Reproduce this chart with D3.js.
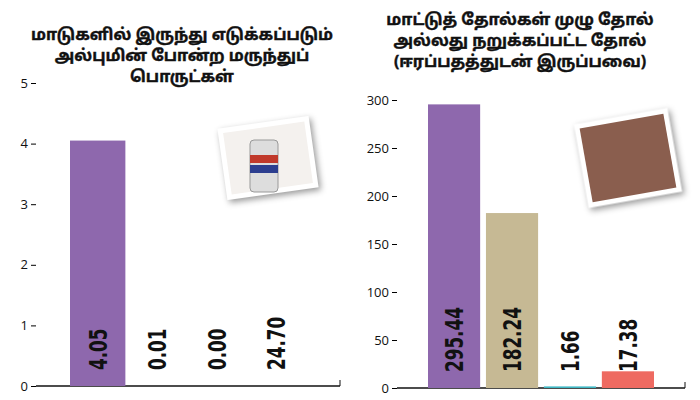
<!DOCTYPE html>
<html><head><meta charset="utf-8">
<script src="https://cdn.jsdelivr.net/npm/d3@7"></script>
<style>body{margin:0;background:#fff}</style>
</head><body><svg id="c" width="700" height="400"></svg>
<script>
// left chart data
const leftTitle = ["மாடுகளில் இருந்து எடுக்கப்படும்", "அல்புமின் போன்ற மருந்துப்", "பொருட்கள்"];
const leftValues = [4.05, 0.01, 0.00, 24.70];
const leftLabels = ["4.05", "0.01", "0.00", "24.70"];
const leftTicks = [0, 1, 2, 3, 4, 5];
// right chart data
const rightTitle = ["மாட்டுத் தோல்கள் முழு தோல்", "அல்லது நறுக்கப்பட்ட தோல்", "(ஈரப்பதத்துடன் இருப்பவை)"];
const rightValues = [295.44, 182.24, 1.66, 17.38];
const rightLabels = ["295.44", "182.24", "1.66", "17.38"];
const rightTicks = [0, 50, 100, 150, 200, 250, 300];
const colors = ["#8e68ad", "#c6b994", "#3fb8c4", "#ee6a61"];

const svg = d3.select("#c");

function panel(o) {
  const g = svg.append("g");
  const y = d3.scaleLinear().domain(o.domain).range([o.y0, o.y1]);
  const x = d3.scaleBand().domain(d3.range(o.values.length)).range([o.bx0, o.bx1]).paddingInner(o.pad).paddingOuter(0);
  g.append("g").attr("transform", `translate(${o.ax},0)`)
    .call(d3.axisLeft(y).tickValues(o.ticks).tickFormat(d3.format("d")).tickSize(5).tickSizeOuter(0))
    .call(a => a.selectAll("text").attr("font-size", 13).attr("fill", "#111").attr("font-family", "'Open Sans',sans-serif"))
    .call(a => a.select(".domain").remove());
  g.append("line").attr("x1", o.ax).attr("x2", o.axEnd).attr("y1", o.y0).attr("y2", o.y0).attr("stroke", "#111").attr("stroke-width", 1.5);
  g.append("line").attr("x1", o.axEnd).attr("x2", o.axEnd).attr("y1", o.y0 - 6).attr("y2", o.y0).attr("stroke", "#111");
  g.selectAll("rect.bar").data(o.values).join("rect")
    .attr("x", (d, i) => x(i)).attr("width", x.bandwidth())
    .attr("y", d => Math.min(y(d), o.y0)).attr("height", d => Math.max(0, o.y0 - y(d)))
    .attr("fill", (d, i) => o.colors[i]);
  g.selectAll("text.lab").data(o.labels).join("text")
    .attr("transform", (d, i) => `translate(${x(i) + x.bandwidth() / 2 + 9},${o.y0 - 16}) rotate(-90) scale(0.85,1.15)`)
    .attr("font-family", "'DejaVu Sans Condensed','DejaVu Sans',sans-serif").attr("font-weight", "bold")
    .attr("font-size", 22).attr("fill", "#111")
    .text(d => d);
  g.selectAll("text.t").data(o.title).join("text")
    .attr("x", o.tx).attr("y", (d, i) => o.ty + i * 21).attr("text-anchor", "middle")
    .attr("font-family", "'Noto Sans','Noto Sans Tamil',sans-serif")
    .attr("font-size", 16).attr("font-weight", "bold").attr("fill", "#111")
    .attr("stroke", "#111").attr("stroke-width", 0.4).text(d => d);
}

panel({domain: [0, 5], y0: 386, y1: 83, ax: 36, axEnd: 340, bx0: 70, bx1: 304, pad: 0.07,
  values: [leftValues[0], 0, 0, 0], labels: leftLabels, ticks: leftTicks, colors: colors,
  title: leftTitle, tx: 182, ty: 40});
panel({domain: [0, 300], y0: 388, y1: 100, ax: 397, axEnd: 685, bx0: 428, bx1: 654, pad: 0.1,
  values: rightValues, labels: rightLabels, ticks: rightTicks, colors: colors,
  title: rightTitle, tx: 520, ty: 25});

// photo placeholders
function photo(cx, cy, w, h, rot, fill) {
  const g = svg.append("g").attr("transform", `translate(${cx},${cy}) rotate(${rot})`);
  g.append("rect").attr("x", -w / 2 - 5).attr("y", -h / 2 - 5).attr("width", w + 10).attr("height", h + 10)
    .attr("fill", "#fff").style("filter", "drop-shadow(2px 3px 3px rgba(0,0,0,0.4))");
  g.append("rect").attr("x", -w / 2).attr("y", -h / 2).attr("width", w).attr("height", h).attr("fill", fill);
}
photo(268, 158, 82, 62, -8, "#f4f1ee");
svg.append("rect").attr("x", 250).attr("y", 140).attr("width", 28).attr("height", 52).attr("rx", 4).attr("fill", "#ddd").attr("stroke", "#999");
svg.append("rect").attr("x", 250).attr("y", 155).attr("width", 28).attr("height", 8).attr("fill", "#c0392b");
svg.append("rect").attr("x", 250).attr("y", 165).attr("width", 28).attr("height", 8).attr("fill", "#2c3e8f");
photo(628, 158, 85, 75, -10, "#8a5e4e");
</script></body></html>
